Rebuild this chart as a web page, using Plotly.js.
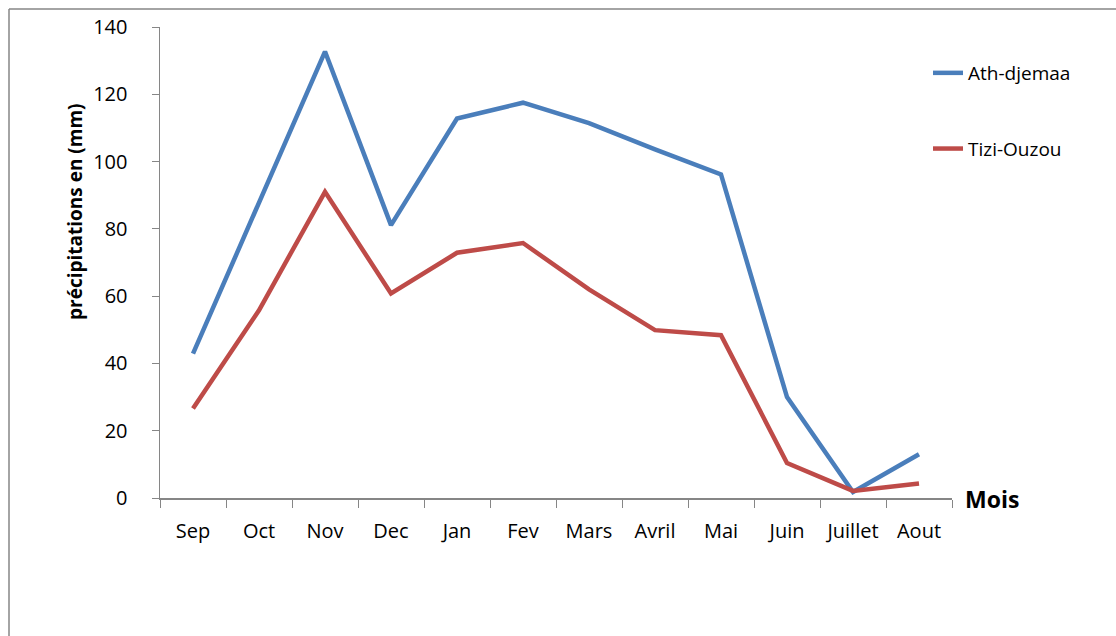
<!DOCTYPE html>
<html>
<head>
<meta charset="utf-8">
<script src="https://cdn.plot.ly/plotly-3.0.1.min.js"></script>
<style>
html,body{margin:0;padding:0;background:#fff;}
#chart{width:1116px;height:636px;}
</style>
</head>
<body>
<div id="chart"></div>
<script>
var months = ["Sep","Oct","Nov","Dec","Jan","Fev","Mars","Avril","Mai","Juin","Juillet","Aout"];
var athDjemaa = [42.9, 88, 132.7, 81.1, 112.8, 117.5, 111.4, 103.6, 96.2, 30.0, 1.8, 13.0];
var tiziOuzou = [26.6, 55.8, 91.0, 60.8, 72.9, 75.8, 62.0, 49.9, 48.4, 10.4, 2.1, 4.3];
var yTicks = [0, 20, 40, 60, 80, 100, 120, 140];

var font = "Open Sans, Noto Sans, sans-serif";
var L = 160, R = 952, T = 27, B = 498;
function px(x){ return (x - L) / (R - L); }
function py(y){ return (B - y) / (B - T); }

var traces = [
  {x: months, y: athDjemaa, name: "Ath-djemaa", type: "scatter", mode: "lines",
   line: {color: "#4a7ebb", width: 4.5}, legendgroup: "a"},
  {x: months, y: tiziOuzou, name: "Tizi-Ouzou", type: "scatter", mode: "lines",
   line: {color: "#be4b48", width: 4.5}, legendgroup: "b"}
];

var layout = {
  width: 1116, height: 636,
  margin: {l: L, r: 1116 - R, t: T, b: 636 - B},
  paper_bgcolor: "#fff", plot_bgcolor: "#fff",
  font: {family: font, size: 20, color: "#000"},
  showlegend: true,
  legend: {x: px(928), y: py(54), xanchor: "left", yanchor: "top",
           tracegroupgap: 48, font: {family: font, size: 19, color: "#000"},
           bgcolor: "rgba(0,0,0,0)"},
  xaxis: {
    type: "category", tickson: "boundaries", ticks: "outside", ticklen: 8,
    tickcolor: "#868686", showline: true, linecolor: "#868686", linewidth: 1.5,
    showgrid: false, zeroline: false, ticklabelstandoff: 14,
    range: [-0.5, 11.5], tickfont: {family: font, size: 20, color: "#000"}
  },
  yaxis: {
    range: [0, 140], tickvals: yTicks, ticks: "outside", ticklen: 7,
    tickcolor: "#868686", showline: true, linecolor: "#868686", linewidth: 1.5,
    showgrid: false, zeroline: false, ticklabelstandoff: 20,
    tickfont: {family: font, size: 20, color: "#000"}
  },
  annotations: [
    {text: "<b>précipitations en (mm)</b>", xref: "paper", yref: "paper",
     x: px(75), y: py(212), textangle: -90, showarrow: false,
     xanchor: "center", yanchor: "middle", font: {family: font, size: 19, color: "#000"}},
    {text: "<b>Mois</b>", xref: "paper", yref: "paper",
     x: px(963), y: py(499), showarrow: false, xanchor: "left", yanchor: "middle",
     font: {family: font, size: 23, color: "#000"}}
  ],
  shapes: [
    {type: "line", xref: "paper", yref: "paper", x0: px(9), x1: px(1116), y0: py(9), y1: py(9),
     line: {color: "#868686", width: 1.5}},
    {type: "line", xref: "paper", yref: "paper", x0: px(9), x1: px(9), y0: py(9), y1: py(636),
     line: {color: "#868686", width: 1.5}}
  ]
};

Plotly.newPlot("chart", traces, layout, {displayModeBar: false, staticPlot: true});
</script>
</body>
</html>
